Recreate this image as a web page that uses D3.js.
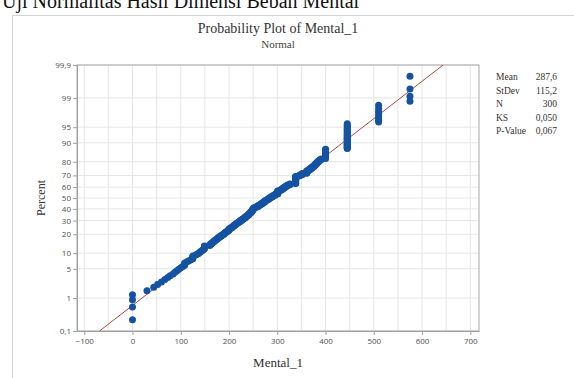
<!DOCTYPE html>
<html>
<head>
<meta charset="utf-8">
<script src="https://cdn.jsdelivr.net/npm/d3@7"></script>
<style>
  body { margin: 0; background: #fff; }
  svg { display: block; }
</style>
</head>
<body>
<div id="chart"></div>
<script>
const heading = 'Uji Normalitas Hasil Dimensi Beban Mental';
const title = 'Probability Plot of Mental_1';
const subtitle = 'Normal';
const xLabel = 'Mental_1';
const yLabel = 'Percent';

// distinct Mental_1 values and how often each one occurs (n = 300)
const values = [
  0, 30, 44, 52, 60, 67, 73, 78, 84, 88, 92, 96, 100, 104, 108, 113, 117, 121, 125,
  131, 134, 137, 139, 141, 143, 145, 147, 149,
  160, 163, 166, 169, 172, 175, 178, 181, 184, 187, 190, 192, 195, 198, 200,
  203, 206, 208, 211, 214, 216, 219, 221, 224, 227, 229, 232, 234, 237, 239,
  241, 243, 245, 247, 249, 251,
  255, 258, 261, 264, 267, 270, 272, 275, 278, 281, 284, 287, 290, 293, 296, 301,
  306, 309, 312, 315, 317, 319, 322, 326, 338, 345, 348, 352, 361,
  365, 369, 372, 376, 379, 382, 385, 388, 391, 400, 445, 510, 575
];
const counts = [
  4, 1, 1, 1, 1, 1, 1, 1, 1, 1, 1, 1, 1, 1, 3, 1, 1, 1, 4,
  1, 1, 1, 1, 1, 1, 1, 1, 5,
  2, 2, 2, 2, 2, 2, 2, 2, 2, 2, 2, 2, 2, 2, 3,
  2, 2, 2, 3, 2, 2, 2, 2, 3, 2, 2, 2, 3, 2, 2,
  3, 2, 3, 3, 4, 4,
  2, 2, 3, 2, 3, 2, 3, 3, 2, 3, 3, 2, 3, 2, 3, 9,
  2, 3, 3, 2, 2, 2, 2, 3, 19, 2, 2, 3, 6,
  3, 3, 3, 3, 3, 3, 3, 2, 2, 16, 26, 8, 4
];

const fitMean = 287.6;
const fitSd = 115.2;

const statNames = ['Mean', 'StDev', 'N', 'KS', 'P-Value'];
const statValues = ['287,6', '115,2', '300', '0,050', '0,067'];

const xTicks = [-100, 0, 100, 200, 300, 400, 500, 600, 700];
const xGrid = [-100, -50, 0, 50, 100, 150, 200, 250, 300, 350, 400, 450, 500, 550, 600, 650, 700];
const yTicks = [0.1, 1, 5, 10, 20, 30, 40, 50, 60, 70, 80, 90, 95, 99, 99.9];

// inverse of the standard normal CDF (Acklam)
function normInv(p) {
  const a = [-3.969683028665376e+01, 2.209460984245205e+02, -2.759285104469687e+02,
             1.383577518672690e+02, -3.066479806614716e+01, 2.506628277459239e+00];
  const b = [-5.447609879822406e+01, 1.615858368580409e+02, -1.556989798598866e+02,
             6.680131188771972e+01, -1.328068155288572e+01];
  const c = [-7.784894002430293e-03, -3.223964580411365e-01, -2.400758277161838e+00,
             -2.549732539343734e+00, 4.374664141464968e+00, 2.938163982698783e+00];
  const d = [7.784695709041462e-03, 3.224671290700398e-01, 2.445134137142996e+00,
             3.754408661907416e+00];
  const pl = 0.02425;
  let q, r;
  if (p < pl) {
    q = Math.sqrt(-2 * Math.log(p));
    return (((((c[0]*q+c[1])*q+c[2])*q+c[3])*q+c[4])*q+c[5]) / ((((d[0]*q+d[1])*q+d[2])*q+d[3])*q+1);
  }
  if (p > 1 - pl) {
    q = Math.sqrt(-2 * Math.log(1 - p));
    return -(((((c[0]*q+c[1])*q+c[2])*q+c[3])*q+c[4])*q+c[5]) / ((((d[0]*q+d[1])*q+d[2])*q+d[3])*q+1);
  }
  q = p - 0.5;
  r = q * q;
  return (((((a[0]*r+a[1])*r+a[2])*r+a[3])*r+a[4])*r+a[5])*q / (((((b[0]*r+b[1])*r+b[2])*r+b[3])*r+b[4])*r+1);
}

// median-rank plotting positions
const n = d3.sum(counts);
const points = [];
let rank = 0;
values.forEach((v, k) => {
  for (let j = 0; j < counts[k]; j++) {
    rank++;
    points.push({ value: v, z: normInv((rank - 0.3) / (n + 0.4)) });
  }
});

const width = 574, height = 378;
const plot = { left: 77, right: 479, top: 65, bottom: 331 };

const svg = d3.select('#chart').append('svg')
  .attr('width', width)
  .attr('height', height);

const serif = '"Liberation Serif", "Times New Roman", serif';
const sans = '"Open Sans", "Noto Sans", sans-serif';

// document heading, cut by the top of the picture
svg.append('text')
  .attr('x', 2).attr('y', 8)
  .style('font-family', serif).style('font-size', '20px').style('fill', '#111')
  .text(heading);

// outer chart border
svg.append('rect')
  .attr('x', 12.5).attr('y', 15.5)
  .attr('width', width).attr('height', height)
  .attr('fill', '#fff').attr('stroke', '#d4d4d4');

const x = d3.scaleLinear().domain([-115, 718]).range([plot.left, plot.right]);
const y = d3.scaleLinear().domain([normInv(0.001), normInv(0.999)]).range([plot.bottom, plot.top]);

// grid
svg.append('g').selectAll('line')
  .data(xGrid).enter().append('line')
  .attr('x1', d => x(d)).attr('x2', d => x(d))
  .attr('y1', plot.top).attr('y2', plot.bottom)
  .attr('stroke', '#e6e6e6');
svg.append('g').selectAll('line')
  .data(yTicks).enter().append('line')
  .attr('x1', plot.left).attr('x2', plot.right)
  .attr('y1', d => y(normInv(d / 100))).attr('y2', d => y(normInv(d / 100)))
  .attr('stroke', '#e6e6e6');

// plot frame
svg.append('rect')
  .attr('x', plot.left).attr('y', plot.top)
  .attr('width', plot.right - plot.left).attr('height', plot.bottom - plot.top)
  .attr('fill', 'none').attr('stroke', '#a8a8a8');

// axes
const xAxis = svg.append('g')
  .attr('transform', `translate(0,${plot.bottom})`)
  .call(d3.axisBottom(x).tickValues(xTicks).tickSize(4).tickPadding(3).tickSizeOuter(0));
const yAxis = svg.append('g')
  .attr('transform', `translate(${plot.left},0)`)
  .call(d3.axisLeft(y)
    .tickValues(yTicks.map(p => normInv(p / 100)))
    .tickFormat((d, i) => String(yTicks[i]).replace('.', ','))
    .tickSize(4).tickPadding(2).tickSizeOuter(0));

[xAxis, yAxis].forEach(g => {
  g.select('.domain').attr('stroke', '#a0a0a0');
  g.selectAll('.tick line').attr('stroke', '#a0a0a0');
  g.selectAll('.tick text')
    .style('font-family', sans).style('font-size', '8px').style('fill', '#505050');
});

// fitted normal line
svg.append('clipPath').attr('id', 'plotClip')
  .append('rect')
  .attr('x', plot.left).attr('y', plot.top)
  .attr('width', plot.right - plot.left).attr('height', plot.bottom - plot.top);

const zEnds = y.domain();
svg.append('path')
  .datum(zEnds)
  .attr('clip-path', 'url(#plotClip)')
  .attr('fill', 'none')
  .attr('stroke', '#b5473d')
  .attr('stroke-width', 1)
  .attr('d', d3.line()
    .x(z => x(fitMean + fitSd * z))
    .y(z => y(z)));

// observations
svg.append('g').selectAll('circle')
  .data(points).enter().append('circle')
  .attr('cx', d => x(d.value))
  .attr('cy', d => y(d.z))
  .attr('r', 3.5)
  .attr('fill', '#1553a2');

// titles
svg.append('text')
  .attr('x', (plot.left + plot.right) / 2).attr('y', 33)
  .attr('text-anchor', 'middle')
  .style('font-family', serif).style('font-size', '14px').style('fill', '#333')
  .text(title);
svg.append('text')
  .attr('x', (plot.left + plot.right) / 2).attr('y', 48)
  .attr('text-anchor', 'middle')
  .style('font-family', serif).style('font-size', '11px').style('fill', '#444')
  .text(subtitle);

svg.append('text')
  .attr('x', (plot.left + plot.right) / 2).attr('y', 367)
  .attr('text-anchor', 'middle')
  .style('font-family', serif).style('font-size', '13px').style('fill', '#333')
  .text(xLabel);
svg.append('text')
  .attr('transform', `translate(45,${(plot.top + plot.bottom) / 2}) rotate(-90)`)
  .attr('text-anchor', 'middle')
  .style('font-family', serif).style('font-size', '12px').style('fill', '#333')
  .text(yLabel);

// statistics box
const stats = svg.append('g')
  .style('font-family', serif).style('font-size', '9.5px').style('fill', '#333');
statNames.forEach((s, i) => {
  stats.append('text').attr('x', 496).attr('y', 80 + i * 13.5).text(s);
  stats.append('text').attr('x', 557).attr('y', 80 + i * 13.5)
    .attr('text-anchor', 'end').text(statValues[i]);
});
</script>
</body>
</html>
